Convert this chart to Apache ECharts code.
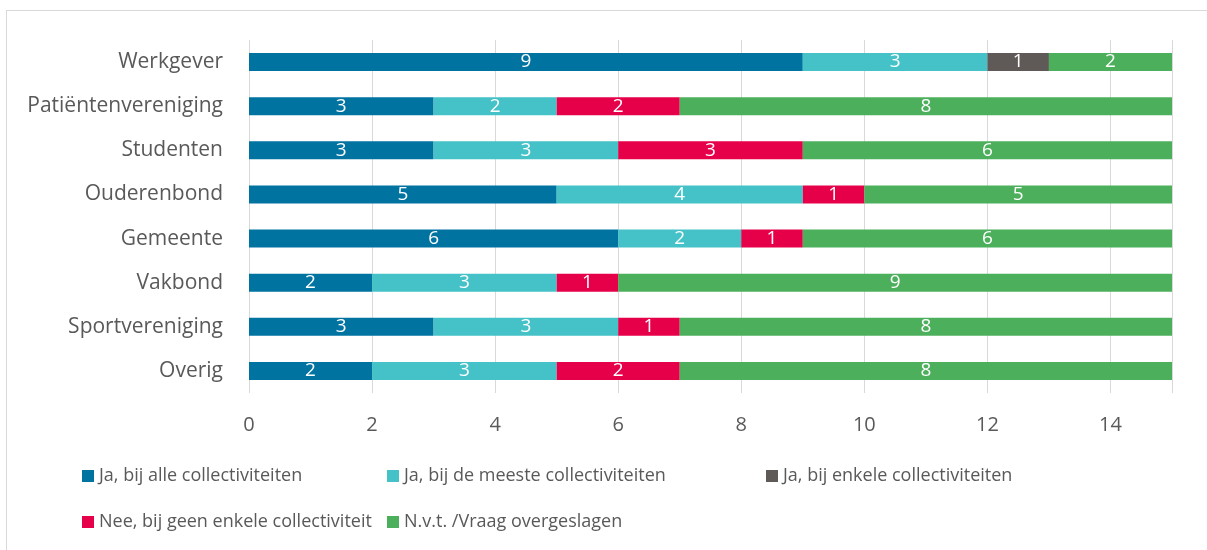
<!DOCTYPE html>
<html>
<head>
<meta charset="utf-8">
<script src="https://cdn.jsdelivr.net/npm/echarts@6/dist/echarts.min.js"></script>
<style>
  html, body { margin: 0; padding: 0; background: #fff; }
  #frame { position: absolute; left: 6px; top: 10px; width: 1210px; height: 550px; border: 1px solid #d9d9d9; }
  #chart { position: absolute; left: 0; top: 0; width: 1207px; height: 550px; }
</style>
</head>
<body>
<div id="frame"></div>
<div id="chart"></div>
<script>
// categorieën van boven naar beneden
var categories = ["Werkgever", "Patiëntenvereniging", "Studenten", "Ouderenbond", "Gemeente", "Vakbond", "Sportvereniging", "Overig"];
var seriesNames = ["Ja, bij alle collectiviteiten", "Ja, bij de meeste collectiviteiten", "Ja, bij enkele collectiviteiten", "Nee, bij geen enkele collectiviteit", "N.v.t. /Vraag overgeslagen"];
var jaAlle = [9, 3, 3, 5, 6, 2, 3, 2];
var jaMeeste = [3, 2, 3, 4, 2, 3, 3, 3];
var jaEnkele = [1, 0, 0, 0, 0, 0, 0, 0];
var nee = [0, 2, 3, 1, 1, 1, 1, 2];
var nvt = [2, 8, 6, 5, 6, 9, 8, 8];
var xTicks = [0, 2, 4, 6, 8, 10, 12, 14];

var colors = ["#0073A1", "#44C2C8", "#5F5A57", "#E6004A", "#4CAF5B"];
var values = [jaAlle, jaMeeste, jaEnkele, nee, nvt];

var chart = echarts.init(document.getElementById("chart"));

var series = seriesNames.map(function (name, i) {
  return {
    name: name,
    type: "bar",
    stack: "totaal",
    barWidth: 18,
    data: values[i],
    itemStyle: { color: colors[i] },
    label: {
      show: true,
      position: "inside",
      color: "#fff",
      fontSize: 19,
      fontFamily: "Open Sans",
      formatter: function (p) { return p.value ? String(p.value) : ""; }
    }
  };
});

// legenda in twee rijen, zoals in Excel
var legendPos = [[82, 467], [387, 467], [766, 467], [82, 513], [387, 513]];
var legends = seriesNames.map(function (name, i) {
  return {
    data: [name],
    left: legendPos[i][0],
    top: legendPos[i][1],
    icon: "rect",
    itemWidth: 12,
    itemHeight: 12,
    padding: 0,
    selectedMode: false,
    textStyle: { color: "#595959", fontSize: 18, fontFamily: "Open Sans" }
  };
});

chart.setOption({
  animation: false,
  color: colors,
  legend: legends,
  grid: { left: 249, right: 35, top: 40, bottom: 157, containLabel: false },
  xAxis: {
    type: "value",
    min: 0,
    max: 15,
    interval: 2,
    axisLine: { show: false },
    axisTick: { show: false },
    splitLine: { lineStyle: { color: "#d9d9d9", width: 1 } },
    axisLabel: {
      color: "#595959",
      fontSize: 20,
      fontFamily: "Open Sans",
      margin: 22,
      formatter: function (v) { return xTicks.indexOf(v) >= 0 ? String(v) : ""; }
    }
  },
  yAxis: {
    type: "category",
    inverse: true,
    data: categories,
    axisLine: { show: false },
    axisTick: { show: false },
    axisLabel: { color: "#595959", fontSize: 21, fontFamily: "Open Sans", margin: 26 }
  },
  series: series
});
</script>
</body>
</html>
